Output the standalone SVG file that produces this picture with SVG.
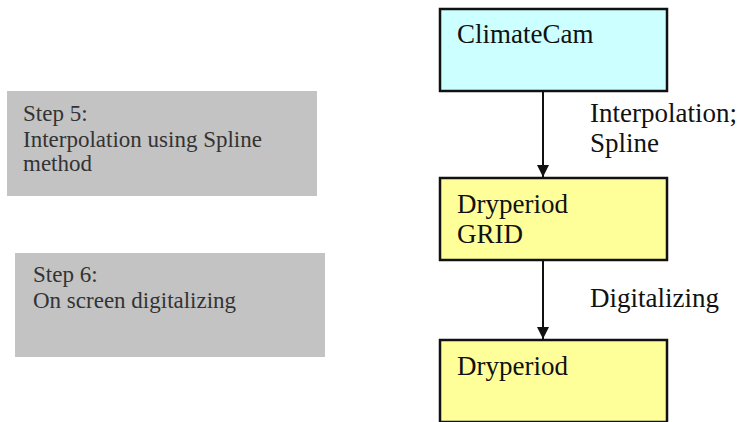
<svg xmlns="http://www.w3.org/2000/svg" width="738" height="422" viewBox="0 0 738 422">
<style>
.step{fill:#c3c3c3}
.st{font-family:"Liberation Serif","Times New Roman",serif;font-size:23px;fill:#333}
.nd{stroke:#111;stroke-width:2.5}
.nt{font-family:"Liberation Serif","Times New Roman",serif;font-size:27px;fill:#111}
.ln{stroke:#111;stroke-width:2;fill:none}
</style>
<defs>
<marker id="ah" viewBox="0 0 10 10" refX="10" refY="5" markerWidth="6" markerHeight="6" markerUnits="strokeWidth" orient="auto">
<path d="M0,0 L10,5 L0,10 z" fill="#111"/>
</marker>
</defs>
<rect width="738" height="422" fill="#fff"/>
<g id="step5">
<rect class="step" x="7" y="91" width="310" height="105"/>
<text class="st" x="23" y="121">Step 5:</text>
<text class="st" x="23" y="147">Interpolation using Spline</text>
<text class="st" x="23" y="171">method</text>
</g>
<g id="step6">
<rect class="step" x="15" y="253" width="310" height="104"/>
<text class="st" x="33" y="282">Step 6:</text>
<text class="st" x="33" y="308">On screen digitalizing</text>
</g>
<g id="climatecam">
<rect class="nd" x="440" y="9" width="227" height="82" fill="#ccffff"/>
<text class="nt" x="457" y="43">ClimateCam</text>
</g>
<g id="dryperiod-grid">
<rect class="nd" x="440" y="178" width="227" height="82" fill="#ffff99"/>
<text class="nt" x="457" y="213">Dryperiod</text>
<text class="nt" x="457" y="243">GRID</text>
</g>
<g id="dryperiod">
<rect class="nd" x="440" y="340" width="227" height="82" fill="#ffff99"/>
<text class="nt" x="457" y="375">Dryperiod</text>
</g>
<g id="connectors">
<line class="ln" x1="543" y1="91" x2="543" y2="177" marker-end="url(#ah)"/>
<line class="ln" x1="543" y1="260" x2="543" y2="339" marker-end="url(#ah)"/>
<text class="nt" x="590" y="122">Interpolation;</text>
<text class="nt" x="590" y="152">Spline</text>
<text class="nt" x="590" y="307">Digitalizing</text>
</g>
</svg>
